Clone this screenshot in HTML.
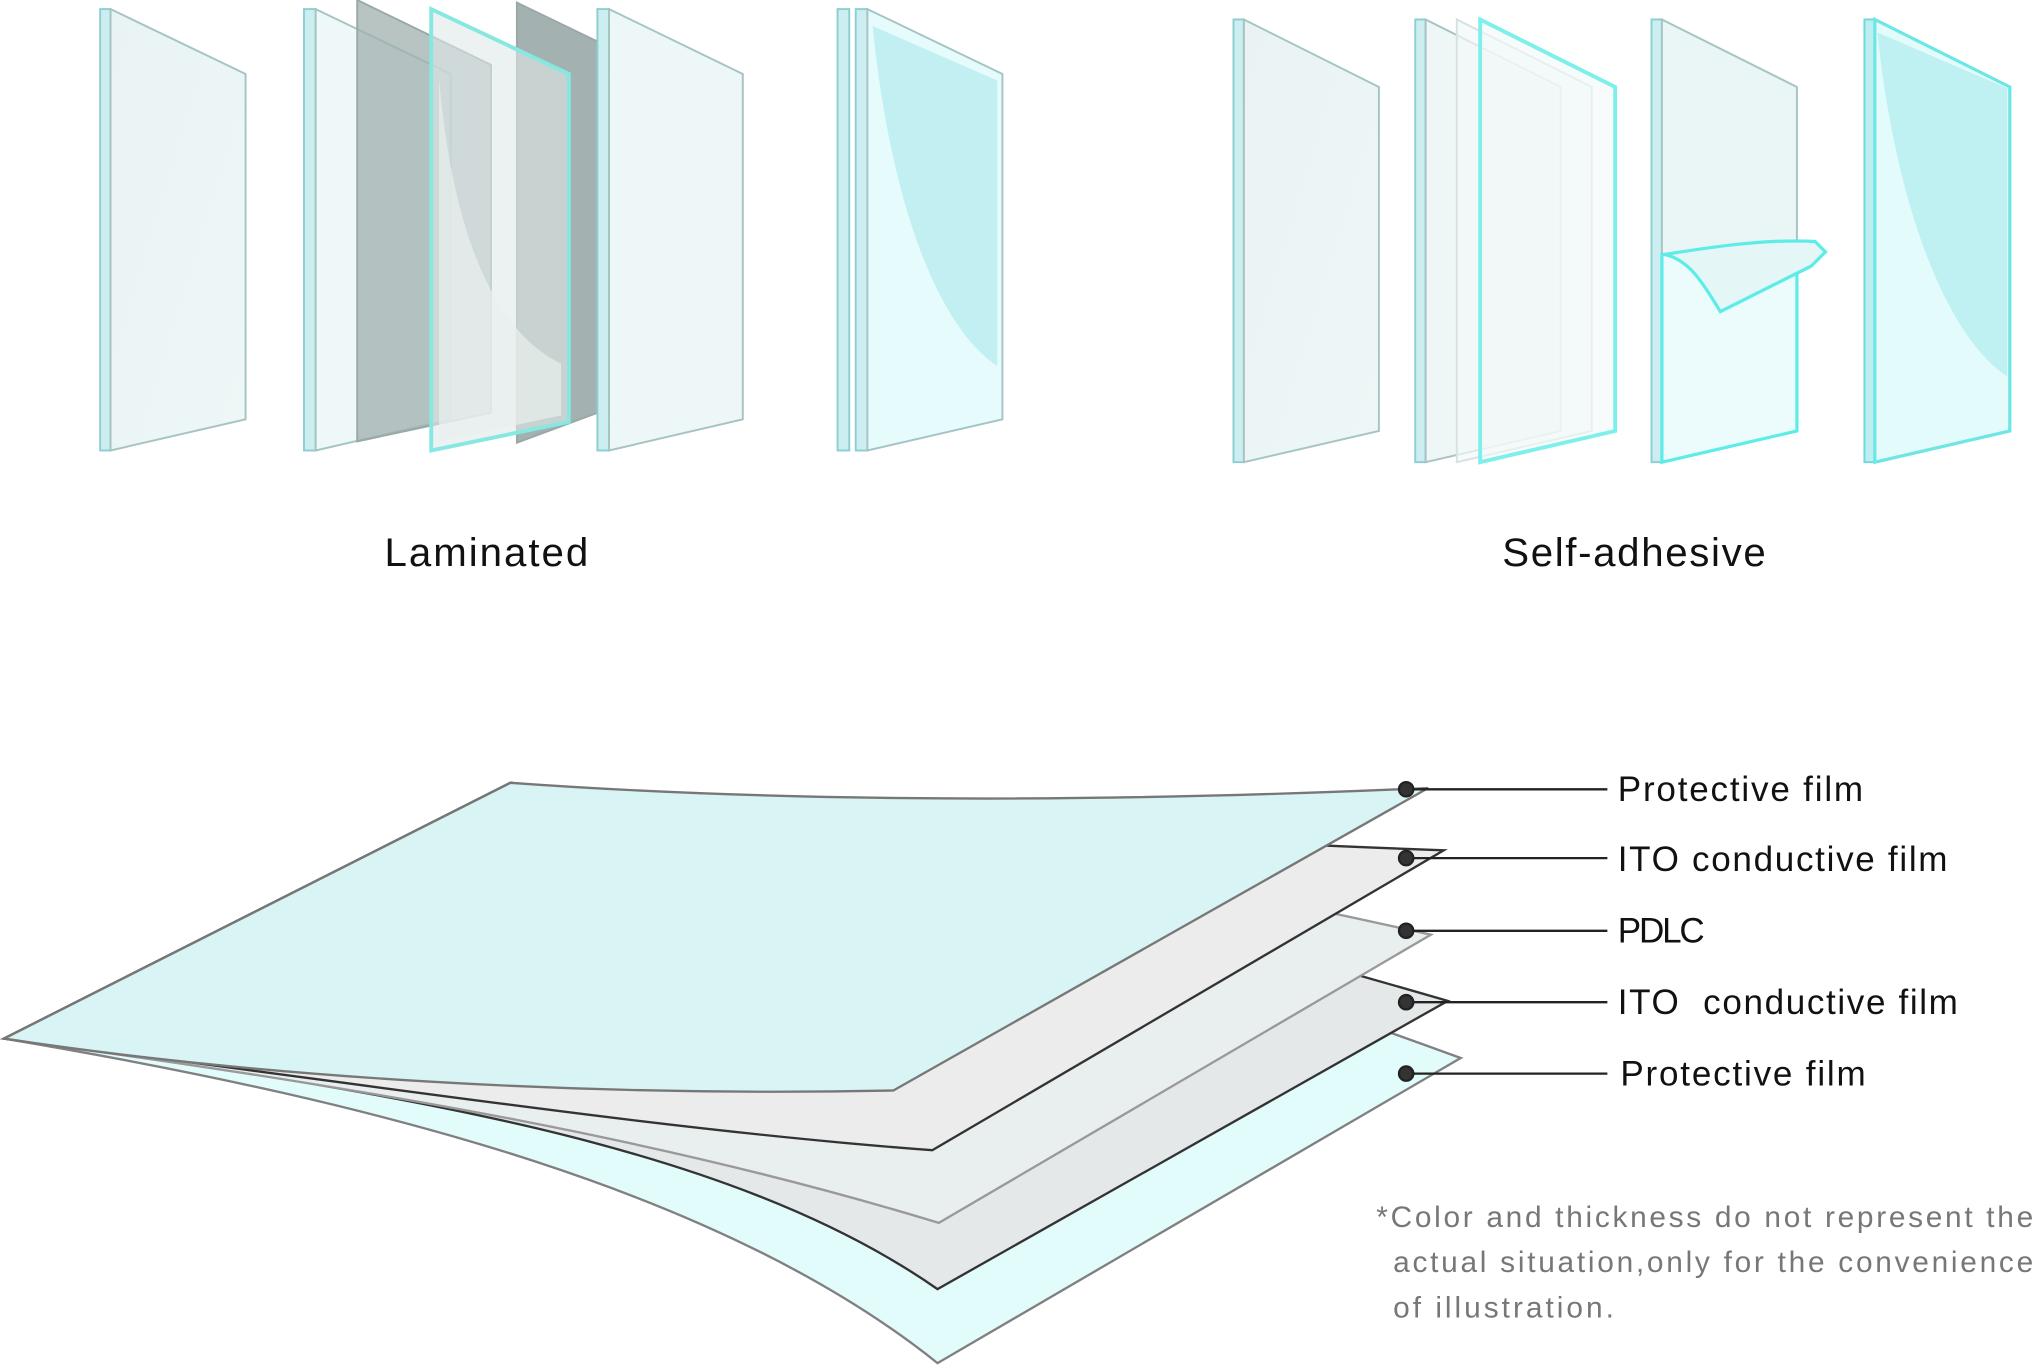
<!DOCTYPE html>
<html><head><meta charset="utf-8"><style>
html,body{margin:0;padding:0;background:#fff;}
svg{display:block;}
text{font-family:"Liberation Sans","DejaVu Sans",sans-serif;}
</style></head><body>
<svg width="2036" height="1367" viewBox="0 0 1568 1053" xmlns="http://www.w3.org/2000/svg">
<defs>
<linearGradient id="g1" x1="0" y1="0" x2="1" y2="1">
<stop offset="0" stop-color="#e9f3f3"/><stop offset="1" stop-color="#eef7f7"/></linearGradient>
</defs>
<!-- Laminated -->
<g stroke="#a6c4c4" stroke-width="1.5">
<rect x="77" y="7" width="8" height="340" fill="#cdeef0" stroke="#8ccfd3"/>
<polygon points="85,7 189,57 189,323 85,347" fill="url(#g1)"/>
<rect x="234" y="7" width="9" height="340" fill="#cdeef0" stroke="#8ccfd3"/>
<polygon points="243,7 347,57 347,323 243,347" fill="#eef8f8"/>
<polygon points="275,0 378,50 378,318 275,340" fill="#9fb0ae" fill-opacity="0.75" stroke="#9aa9a8"/>
<polygon points="398,2 460,32 460,318 398,341" fill="#a3b2b0" stroke="#9aa9a8"/>
<polygon points="332,7 438,57 438,325 332,347" fill="#dfe8e7" fill-opacity="0.6" stroke="#86e8e0" stroke-width="3"/>
<path d="M338,60 C350,200 390,260 432,280 L432,320 L338,340 Z" fill="#e9efee" stroke="none" opacity="0.7"/>
<rect x="460" y="7" width="9" height="340" fill="#cdeef0" stroke="#8ccfd3"/>
<polygon points="469,7 572,57 572,323 469,347" fill="#eef7f7"/>
<rect x="645" y="7" width="9" height="340" fill="#cdeef0" stroke="#8ccfd3"/>
<rect x="659" y="7" width="9" height="340" fill="#cdeef0" stroke="#8ccfd3"/>
<polygon points="668,7 772,57 772,323 668,347" fill="#e6fbfb"/>
<path d="M672,20 C685,150 720,250 768,282 L768,62 Z" fill="#c2f0f2" stroke="none"/>
</g>
<text x="296" y="436" font-size="31" textLength="157" fill="#111">Laminated</text>
<!-- Self-adhesive -->
<g stroke="#a6c4c4" stroke-width="1.5">
<rect x="950" y="15" width="8" height="341" fill="#cdeef0" stroke="#8ccfd3"/>
<polygon points="958,15 1062,67 1062,332 958,356" fill="url(#g1)"/>
<rect x="1090" y="15" width="8" height="341" fill="#cdeef0" stroke="#8ccfd3"/>
<polygon points="1098,15 1202,67 1202,332 1098,356" fill="#eef6f6"/>
<polygon points="1122,15 1226,67 1226,332 1122,356" fill="#f4f8f8" fill-opacity="0.7" stroke="#d6e2e2"/>
<polygon points="1140,15 1244,67 1244,332 1140,356" fill="#f2f9f9" fill-opacity="0.6" stroke="#7ef0ec" stroke-width="3"/>
<rect x="1272" y="15" width="8" height="341" fill="#cdeef0" stroke="#8ccfd3"/>
<polygon points="1280,15 1384,67 1384,332 1280,356" fill="#eaf5f5"/>
<polygon points="1280,196 1384,196 1384,332 1280,356" fill="#ecfcfc" stroke="#5eece8" stroke-width="2.5"/>
<path d="M1282,196 C1300,200 1310,215 1325,240 L1395,205 L1406,194 L1398,186 C1360,184 1320,190 1282,196 Z" fill="#e4f6f6" stroke="#5eece8" stroke-width="2.5"/>
<rect x="1436" y="15" width="8" height="341" fill="#bdeef0" stroke="#6fd9dd"/>
<polygon points="1444,15 1548,67 1548,332 1444,356" fill="#e4fbfb" stroke="#6fe6e6" stroke-width="2.5"/>
<path d="M1446,25 C1460,160 1500,260 1546,290 L1546,68 Z" fill="#bff0f2" stroke="none"/>
</g>
<text x="1157" y="436" font-size="31" textLength="203" fill="#111">Self-adhesive</text>
<!-- Bottom layers -->
<g stroke-width="1.8">
<path d="M3,800 L393,603 Q700,660 1125,815 L722,1050 C560,920 300,850 3,800 Z" fill="#e2fbfb" stroke="#808080"/>
<path d="M3,800 L393,603 Q700,650 1115,771 L722,993 C560,880 300,840 3,800 Z" fill="#e4e8e8" stroke="#333"/>
<path d="M3,800 L393,603 Q700,630 1102,720 L723,942 C520,880 300,840 3,800 Z" fill="#e9eeee" stroke="#999"/>
<path d="M3,800 L393,603 Q700,640 1112,655 L718,886 C500,870 250,830 3,800 Z" fill="#ececec" stroke="#333"/>
<path d="M3,800 L393,603 Q700,625 1100,607 L688,840 C450,845 200,830 3,800 Z" fill="#d9f4f4" stroke="#777"/>
</g>
<g stroke="#222" stroke-width="1.8" fill="#333">
<line x1="1083" y1="608" x2="1238" y2="608"/><circle cx="1083" cy="608" r="5.5"/>
<line x1="1083" y1="661" x2="1238" y2="661"/><circle cx="1083" cy="661" r="5.5"/>
<line x1="1083" y1="717" x2="1238" y2="717"/><circle cx="1083" cy="717" r="5.5"/>
<line x1="1083" y1="772" x2="1238" y2="772"/><circle cx="1083" cy="772" r="5.5"/>
<line x1="1083" y1="827" x2="1238" y2="827"/><circle cx="1083" cy="827" r="5.5"/>
</g>
<g font-size="27" fill="#111">
<text x="1246" y="617" textLength="189">Protective film</text>
<text x="1246" y="671" textLength="254">ITO conductive film</text>
<text x="1246" y="726" textLength="67">PDLC</text>
<text x="1246" y="781" xml:space="preserve" textLength="262">ITO  conductive film</text>
<text x="1248" y="836" textLength="189">Protective film</text>
</g>
<g font-size="23" fill="#777">
<text x="1060" y="945" textLength="506">*Color and thickness do not represent the</text>
<text x="1073" y="980" textLength="493">actual situation,only for the convenience</text>
<text x="1073" y="1015" textLength="170">of illustration.</text>
</g>
</svg>
</body></html>
